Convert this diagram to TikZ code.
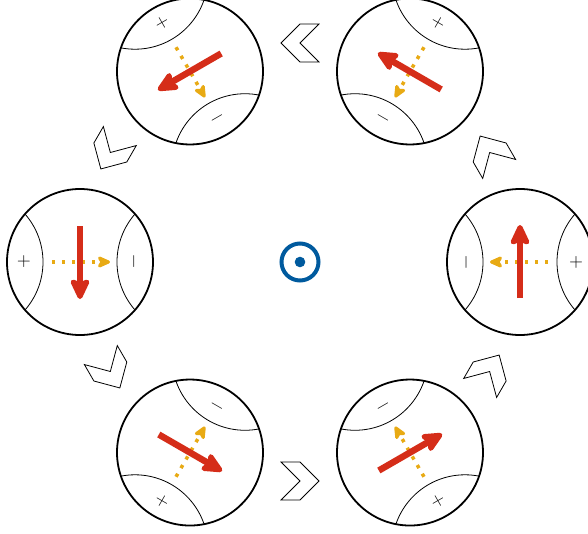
\documentclass[tikz,border=0pt]{standalone}
\usepackage{fontspec}
\usetikzlibrary{arrows.meta,calc}
\definecolor{redarrow}{RGB}{213,45,25}
\definecolor{yelarrow}{RGB}{232,170,20}
\definecolor{bluesym}{RGB}{0,90,158}
\begin{document}
\begin{tikzpicture}[x=1pt,y=1pt,
  disc/.style={circle,draw=black,line width=1.8pt,minimum size=146pt,inner sep=0pt},
  capline/.style={line width=0.8pt},
  redarr/.style={draw=redarrow,line width=6.5pt,-{Stealth[length=25pt,width=23pt,inset=5pt,round]}},
  yelarr/.style={draw=yelarrow,line width=3.5pt,dash pattern=on 3.5pt off 6.5pt,-{Stealth[length=16pt,width=14pt,inset=4pt,round]}},
  chev/.style={draw=black,line width=0.8pt,line join=miter},
  sign/.style={font=\sffamily\fontsize{19}{19}\selectfont,inner sep=0pt}]
\useasboundingbox (-300,-271) rectangle (288,262);
\node[circle,draw=bluesym,line width=4pt,minimum size=37pt,inner sep=0pt] (sym) at (0,0) {};
\fill[bluesym] (sym.center) circle (5.3);
\foreach \i in {0,...,5}{
  \pgfmathsetmacro{\a}{60*\i}
  \pgfmathsetmacro{\b}{60*\i+30}
  \coordinate (p\i) at (\a:220);
  \begin{scope}
    \clip (p\i) circle (73);
    \draw[capline] ($(p\i)+(\a:110)$) circle (73);
    \draw[capline] ($(p\i)+(\a+180:110)$) circle (73);
  \end{scope}
  \node[disc] (c\i) at (p\i) {};
  \node[sign,rotate=\a-90] (plus\i) at ($(c\i.center)+(\a:56)$) {+};
  \node[sign,rotate=\a-90] (minus\i) at ($(c\i.center)+(\a+180:56)$) {−};
  \coordinate (ys\i) at ($(c\i.center)+(\a:28)$);
  \coordinate (ye\i) at ($(c\i.center)+(\a+180:30)$);
  \draw[yelarr] (ys\i) -- (ye\i);
  \coordinate (rs\i) at ($(c\i.center)+(\a-90:36)$);
  \coordinate (re\i) at ($(c\i.center)+(\a+90:37)$);
  \draw[redarr] (rs\i) -- (re\i);
  \draw[chev,shift={(\b:219)},rotate=\b+90] (-19,19) -- (0,19) -- (19,0) -- (0,-19) -- (-19,-19) -- (0,0) -- cycle;
}
\end{tikzpicture}
\end{document}
